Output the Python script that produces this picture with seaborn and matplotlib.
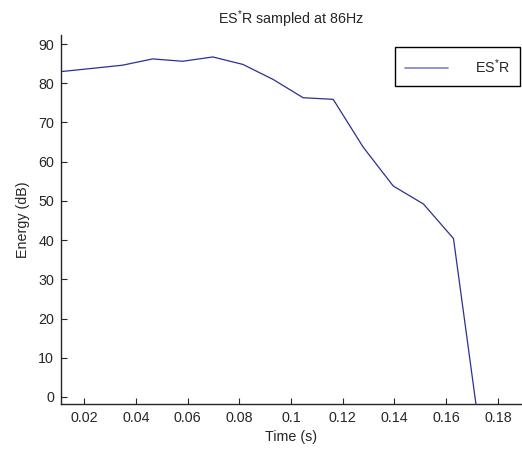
import matplotlib
matplotlib.use("Agg")
import matplotlib.pyplot as plt
import seaborn as sns

# ES*R energy per frame, frames at 86 Hz
time_s = [0.0116, 0.0233, 0.0349, 0.0465, 0.0581, 0.0698, 0.0814, 0.0930,
          0.1047, 0.1163, 0.1279, 0.1395, 0.1512, 0.1628, 0.1744]
energy_db = [83.0, 83.8, 84.6, 86.2, 85.6, 86.7, 84.8, 81.0,
             76.3, 75.9, 63.7, 53.8, 49.2, 40.4, -16.0]
x_ticks = [0.02, 0.04, 0.06, 0.08, 0.10, 0.12, 0.14, 0.16, 0.18]
x_labels = ["0.02", "0.04", "0.06", "0.08", "0.1", "0.12", "0.14", "0.16", "0.18"]
y_ticks = [0, 10, 20, 30, 40, 50, 60, 70, 80, 90]

sns.set_style("ticks")
plt.rcParams["font.family"] = ["Liberation Sans", "DejaVu Sans"]
plt.rcParams["mathtext.fontset"] = "custom"
plt.rcParams["mathtext.rm"] = "Liberation Sans"
plt.rcParams["mathtext.it"] = "Liberation Sans"
plt.rcParams["mathtext.default"] = "regular"

fig = plt.figure(figsize=(5.22, 4.51), dpi=100)
ax = fig.add_axes([61 / 522, 47 / 451, 460 / 522, 369 / 451])

sns.lineplot(x=time_s, y=energy_db, ax=ax, color="#2b2f96", lw=0.9,
             label="ES$^{*}$R")

ax.set_xlim(0.0111, 0.1889)
ax.set_ylim(-1.8, 92.3)
ax.set_xticks(x_ticks)
ax.set_xticklabels(x_labels)
ax.set_yticks(y_ticks)
ax.tick_params(direction="in", length=4, width=0.8, labelsize=10.3, colors="#262626",
               pad=5)
for s in ["top", "right"]:
    ax.spines[s].set_visible(False)
for s in ["left", "bottom"]:
    ax.spines[s].set_color("#262626")
    ax.spines[s].set_linewidth(1.0)

ax.set_xlabel("Time (s)", fontsize=10.3, color="#262626", labelpad=4)
ax.set_ylabel("Energy (dB)", fontsize=10.3, color="#262626", labelpad=6)
ax.set_title("ES$^{*}$R sampled at 86Hz", fontsize=10.3, color="#262626", pad=8)

leg = ax.legend(loc="upper right", bbox_to_anchor=(520 / 522, 1 - 47 / 451),
                bbox_transform=fig.transFigure, borderaxespad=0, fontsize=10.3,
                handlelength=3.0, handletextpad=1.9, borderpad=0.7,
                fancybox=False, framealpha=1, edgecolor="black")
leg.get_frame().set_linewidth(1.0)
for line in leg.get_lines():
    line.set_color("#8080c8")
    line.set_linewidth(1.2)

fig.savefig("out.png", dpi=100)
